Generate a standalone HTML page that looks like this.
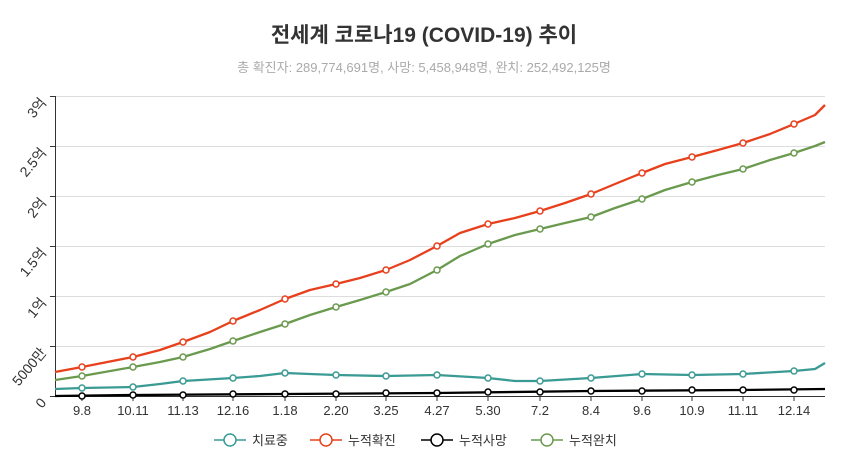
<!DOCTYPE html>
<html><head><meta charset="utf-8"><style>
body{margin:0;background:#fff;}
svg{display:block;font-family:"Liberation Sans","Noto Sans CJK KR",sans-serif;}
</style></head><body>
<svg width="849" height="462" viewBox="0 0 849 462" xmlns="http://www.w3.org/2000/svg">
<text x="424" y="42" text-anchor="middle" font-size="21" font-weight="bold" fill="#333">전세계 코로나19 (COVID-19) 추이</text>
<text x="424" y="72" text-anchor="middle" font-size="13" fill="#aaa">총 확진자: 289,774,691명, 사망: 5,458,948명, 완치: 252,492,125명</text>
<g stroke="#ddd" stroke-width="1">
<line x1="55" y1="96.5" x2="825" y2="96.5"/><line x1="55" y1="146.5" x2="825" y2="146.5"/>
<line x1="55" y1="196.5" x2="825" y2="196.5"/><line x1="55" y1="246.5" x2="825" y2="246.5"/>
<line x1="55" y1="296.5" x2="825" y2="296.5"/><line x1="55" y1="346.5" x2="825" y2="346.5"/>
</g>
<g stroke="#333" stroke-width="1">
<line x1="55.5" y1="96" x2="55.5" y2="396"/><line x1="55" y1="396.5" x2="825" y2="396.5"/>
<line x1="50" y1="96.5" x2="55" y2="96.5"/><line x1="50" y1="146.5" x2="55" y2="146.5"/><line x1="50" y1="196.5" x2="55" y2="196.5"/><line x1="50" y1="246.5" x2="55" y2="246.5"/><line x1="50" y1="296.5" x2="55" y2="296.5"/><line x1="50" y1="346.5" x2="55" y2="346.5"/><line x1="50" y1="396.5" x2="55" y2="396.5"/>
</g>
<g font-size="14" fill="#333" text-anchor="end">
<text transform="translate(47,103) rotate(-50)">3억</text>
<text transform="translate(47,153) rotate(-50)">2.5억</text>
<text transform="translate(47,203) rotate(-50)">2억</text>
<text transform="translate(47,253) rotate(-50)">1.5억</text>
<text transform="translate(47,303) rotate(-50)">1억</text>
<text transform="translate(47,353) rotate(-50)">5000만</text>
<text transform="translate(47,403) rotate(-50)">0</text>
</g>
<g font-size="13" fill="#333" text-anchor="middle">
<text x="82" y="415">9.8</text><text x="133" y="415">10.11</text><text x="183" y="415">11.13</text><text x="233" y="415">12.16</text><text x="285" y="415">1.18</text><text x="336" y="415">2.20</text><text x="386" y="415">3.25</text><text x="437" y="415">4.27</text><text x="488" y="415">5.30</text><text x="540" y="415">7.2</text><text x="591" y="415">8.4</text><text x="642" y="415">9.6</text><text x="692" y="415">10.9</text><text x="743" y="415">11.11</text><text x="794" y="415">12.14</text>
</g>
<g stroke="#333"><line x1="82" y1="396" x2="82" y2="401"/><line x1="133" y1="396" x2="133" y2="401"/><line x1="183" y1="396" x2="183" y2="401"/><line x1="233" y1="396" x2="233" y2="401"/><line x1="285" y1="396" x2="285" y2="401"/><line x1="336" y1="396" x2="336" y2="401"/><line x1="386" y1="396" x2="386" y2="401"/><line x1="437" y1="396" x2="437" y2="401"/><line x1="488" y1="396" x2="488" y2="401"/><line x1="540" y1="396" x2="540" y2="401"/><line x1="591" y1="396" x2="591" y2="401"/><line x1="642" y1="396" x2="642" y2="401"/><line x1="692" y1="396" x2="692" y2="401"/><line x1="743" y1="396" x2="743" y2="401"/><line x1="794" y1="396" x2="794" y2="401"/></g>
<g fill="none" stroke-width="2.3" stroke-linejoin="round">
<polyline stroke="#3a9a94" points="55,389 82,388 133,387 160,384 183,381 233,378 260,376 285,373 310,374 336,375 386,376 437,375 488,378 515,381 540,381 591,378 642,374 692,375 743,374 794,371 815,369 825,363"/>
<polyline stroke="#e8401c" points="55,372 82,367 133,357 160,350 183,342 210,332 233,321 260,310 285,299 310,290 336,284 360,278 386,270 410,260 437,246 460,233 488,224 515,218 540,211 565,203 591,194 615,184 642,173 665,164 692,157 718,150 743,143 770,134 794,124 815,115 825,105"/>
<polyline stroke="#6a9a4e" points="55,380 82,376 133,367 160,362 183,357 210,349 233,341 260,332 285,324 310,315 336,307 360,300 386,292 410,284 437,270 460,256 488,244 515,235 540,229 565,223 591,217 615,208 642,199 665,190 692,182 718,175 743,169 770,160 794,153 815,146 825,142"/>
<polyline stroke="#000" points="55,396 133,395 285,394 437,393 591,391 743,390 825,389"/>
</g>
<g stroke-width="1.5" fill="#fff">
<g stroke="#3a9a94"><circle cx="82" cy="388" r="3"/><circle cx="133" cy="387" r="3"/><circle cx="183" cy="381" r="3"/><circle cx="233" cy="378" r="3"/><circle cx="285" cy="373" r="3"/><circle cx="336" cy="375" r="3"/><circle cx="386" cy="376" r="3"/><circle cx="437" cy="375" r="3"/><circle cx="488" cy="378" r="3"/><circle cx="540" cy="381" r="3"/><circle cx="591" cy="378" r="3"/><circle cx="642" cy="374" r="3"/><circle cx="692" cy="375" r="3"/><circle cx="743" cy="374" r="3"/><circle cx="794" cy="371" r="3"/></g>
<g stroke="#e8401c"><circle cx="82" cy="367" r="3"/><circle cx="133" cy="357" r="3"/><circle cx="183" cy="342" r="3"/><circle cx="233" cy="321" r="3"/><circle cx="285" cy="299" r="3"/><circle cx="336" cy="284" r="3"/><circle cx="386" cy="270" r="3"/><circle cx="437" cy="246" r="3"/><circle cx="488" cy="224" r="3"/><circle cx="540" cy="211" r="3"/><circle cx="591" cy="194" r="3"/><circle cx="642" cy="173" r="3"/><circle cx="692" cy="157" r="3"/><circle cx="743" cy="143" r="3"/><circle cx="794" cy="124" r="3"/></g>
<g stroke="#6a9a4e"><circle cx="82" cy="376" r="3"/><circle cx="133" cy="367" r="3"/><circle cx="183" cy="357" r="3"/><circle cx="233" cy="341" r="3"/><circle cx="285" cy="324" r="3"/><circle cx="336" cy="307" r="3"/><circle cx="386" cy="292" r="3"/><circle cx="437" cy="270" r="3"/><circle cx="488" cy="244" r="3"/><circle cx="540" cy="229" r="3"/><circle cx="591" cy="217" r="3"/><circle cx="642" cy="199" r="3"/><circle cx="692" cy="182" r="3"/><circle cx="743" cy="169" r="3"/><circle cx="794" cy="153" r="3"/></g>
<g stroke="#000"><circle cx="82" cy="396" r="3"/><circle cx="133" cy="395" r="3"/><circle cx="183" cy="395" r="3"/><circle cx="233" cy="394" r="3"/><circle cx="285" cy="394" r="3"/><circle cx="336" cy="394" r="3"/><circle cx="386" cy="393" r="3"/><circle cx="437" cy="393" r="3"/><circle cx="488" cy="392" r="3"/><circle cx="540" cy="392" r="3"/><circle cx="591" cy="391" r="3"/><circle cx="642" cy="391" r="3"/><circle cx="692" cy="390" r="3"/><circle cx="743" cy="390" r="3"/><circle cx="794" cy="390" r="3"/></g>
</g>
<g font-size="13" fill="#333" stroke-width="1.5">
<line x1="214" y1="440" x2="246" y2="440" stroke="#3a9a94"/><circle cx="230" cy="440" r="6" fill="#fff" stroke="#3a9a94"/><text x="252" y="445">치료중</text>
<line x1="310" y1="440" x2="342" y2="440" stroke="#e8401c"/><circle cx="326" cy="440" r="6" fill="#fff" stroke="#e8401c"/><text x="348" y="445">누적확진</text>
<line x1="421" y1="440" x2="453" y2="440" stroke="#000"/><circle cx="437" cy="440" r="6" fill="#fff" stroke="#000"/><text x="459" y="445">누적사망</text>
<line x1="531" y1="440" x2="563" y2="440" stroke="#6a9a4e"/><circle cx="547" cy="440" r="6" fill="#fff" stroke="#6a9a4e"/><text x="569" y="445">누적완치</text>
</g>
</svg>
</body></html>
